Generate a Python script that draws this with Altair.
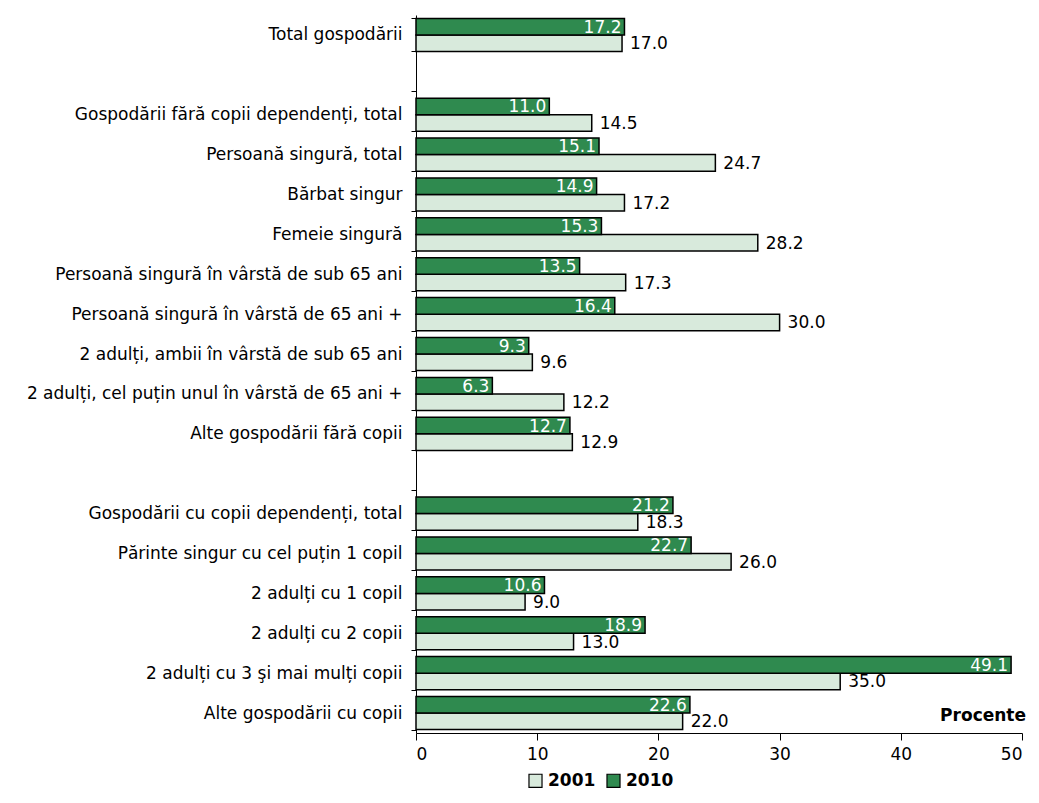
import altair as alt
import pandas as pd

categories = [
    "Total gospodării", " ",
    "Gospodării fără copii dependenți, total",
    "Persoană singură, total",
    "Bărbat singur",
    "Femeie singură",
    "Persoană singură în vârstă de sub 65 ani",
    "Persoană singură în vârstă de 65 ani +",
    "2 adulți, ambii în vârstă de sub 65 ani",
    "2 adulți, cel puțin unul  în vârstă de 65 ani +",
    "Alte gospodării fără copii",
    "  ",
    "Gospodării cu copii dependenți, total",
    "Părinte singur cu cel puțin 1 copil",
    "2 adulți cu 1 copil",
    "2 adulți cu 2 copii",
    "2 adulți cu 3 şi mai mulți copii",
    "Alte gospodării cu copii",
]
v2001 = [17.0, None, 14.5, 24.7, 17.2, 28.2, 17.3, 30.0, 9.6, 12.2, 12.9, None,
         18.3, 26.0, 9.0, 13.0, 35.0, 22.0]
v2010 = [17.2, None, 11.0, 15.1, 14.9, 15.3, 13.5, 16.4, 9.3, 6.3, 12.7, None,
         21.2, 22.7, 10.6, 18.9, 49.1, 22.6]
series = ["2001", "2010"]
x_ticks = [0, 10, 20, 30, 40, 50]

LIGHT = "#d8eadc"
DARK = "#2f8a4f"
FONT = "DejaVu Sans"

rows = []
for c, a, b in zip(categories, v2001, v2010):
    if a is not None:
        rows.append({"cat": c, "serie": "2001", "val": a, "lab": f"{a:.1f}"})
    if b is not None:
        rows.append({"cat": c, "serie": "2010", "val": b, "lab": f"{b:.1f}"})
df = pd.DataFrame(rows)

y_enc = alt.Y(
    "cat:N",
    sort=categories,
    scale=alt.Scale(domain=categories, paddingInner=0.17, paddingOuter=0.085),
    axis=alt.Axis(
        title=None, tickBand="extent", tickSize=5, labelPadding=9,
        labelFontSize=17, labelFont=FONT, labelColor="black",
        domainColor="black", tickColor="black", grid=False, labelLimit=420,
    ),
)
yoff = alt.YOffset("serie:N", sort=["2010", "2001"])
x_enc = alt.X(
    "val:Q",
    scale=alt.Scale(domain=[0, 50], nice=False),
    axis=alt.Axis(
        title=None, values=x_ticks, grid=False, tickSize=7, labelPadding=6,
        labelFontSize=17, labelFont=FONT, labelColor="black",
        domainColor="black", tickColor="black",
    ),
)

base = alt.Chart(df)

bars = base.mark_bar(stroke="black", strokeWidth=1.5).encode(
    y=y_enc, yOffset=yoff, x=x_enc,
    color=alt.Color(
        "serie:N",
        scale=alt.Scale(domain=series, range=[LIGHT, DARK]),
        legend=alt.Legend(
            title=None, orient="none", legendX=111, legendY=757,
            direction="horizontal", symbolType="square", symbolSize=170,
            symbolStrokeColor="black", symbolStrokeWidth=1.2,
            labelFontSize=17, labelFont=FONT, labelFontWeight="bold",
            labelColor="black", columnPadding=8, symbolOpacity=1,
        ),
    ),
)

t2010 = base.transform_filter(alt.datum.serie == "2010").mark_text(
    align="right", baseline="middle", dx=-3, dy=1, color="white",
    fontSize=17, font=FONT,
).encode(y=y_enc, yOffset=yoff, x=x_enc, text="lab:N")

t2001 = base.transform_filter(alt.datum.serie == "2001").mark_text(
    align="left", baseline="middle", dx=8, dy=1, color="black",
    fontSize=17, font=FONT,
).encode(y=y_enc, yOffset=yoff, x=x_enc, text="lab:N")

proc = alt.Chart(pd.DataFrame({"t": ["Procente"]})).mark_text(
    align="right", baseline="middle", dx=4, fontSize=17, fontWeight="bold",
    font=FONT, color="black",
).encode(x=alt.datum(50), y=alt.value(701), text="t:N")

chart = alt.layer(bars, t2010, t2001, proc).properties(
    width=606, height=718,
    autosize=alt.AutoSizeParams(type="none"),
    padding={"left": 408, "top": 7, "right": 9, "bottom": 62},
).configure_view(stroke=None)

chart.save("out.html", embed_options={"renderer": "svg", "actions": False})
